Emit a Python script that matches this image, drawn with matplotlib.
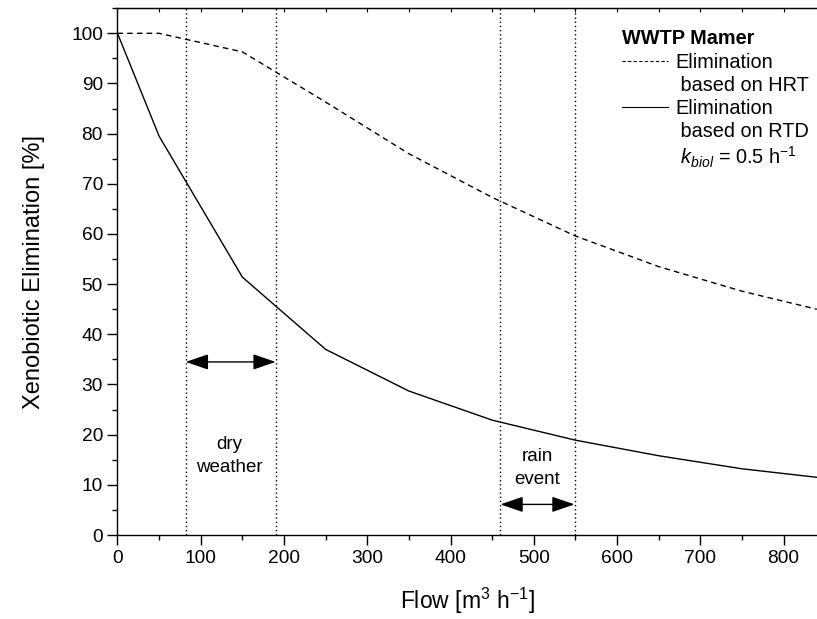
import matplotlib
matplotlib.use("Agg")
import matplotlib.pyplot as plt
from matplotlib.lines import Line2D
from matplotlib.ticker import MultipleLocator

plt.rcParams['font.family'] = ['Liberation Sans', 'DejaVu Sans']
plt.rcParams['mathtext.fontset'] = 'custom'
plt.rcParams['mathtext.rm'] = 'Liberation Sans'
plt.rcParams['mathtext.it'] = 'Liberation Sans:italic'

# flow [m3/h]
flow = [0, 50, 150, 250, 350, 450, 550, 650, 750, 840]
# elimination [%]
elim_hrt = [100, 100, 96.3, 86.3, 76.0, 67.3, 59.6, 53.5, 48.6, 45.0]
elim_rtd = [100, 79.5, 51.4, 37.0, 28.7, 22.9, 18.9, 15.8, 13.2, 11.5]

# flow regimes
dry_range = [82, 190]
rain_range = [460, 549]
dry_arrow_y = 34.5
rain_arrow_y = 6.1

fig = plt.figure(figsize=(8.17, 6.19), dpi=100)
ax = fig.add_axes([0.1438, 0.1357, 0.856, 0.851])

ax.plot(flow, elim_hrt, color='black', linestyle=(0, (4, 3)), linewidth=1.0)
ax.plot(flow, elim_rtd, color='black', linestyle='-', linewidth=1.0)

for xv in dry_range + rain_range:
    ax.axvline(xv, color='black', linestyle=(0, (1, 2)), linewidth=1.0)

arrow_kw = dict(arrowstyle='<|-|>,head_length=1.4,head_width=0.48', color='black',
                linewidth=1.0, shrinkA=0, shrinkB=0)
ax.annotate('', xy=(dry_range[0], dry_arrow_y), xytext=(dry_range[1], dry_arrow_y),
            arrowprops=arrow_kw)
ax.annotate('', xy=(rain_range[0], rain_arrow_y), xytext=(rain_range[1], rain_arrow_y),
            arrowprops=arrow_kw)

ax.text(sum(dry_range) / 2 - 2, 15.8, 'dry\nweather', ha='center', va='center',
        fontsize=13.5, linespacing=1.45)
ax.text(sum(rain_range) / 2, 13.3, 'rain\nevent', ha='center', va='center',
        fontsize=13.5, linespacing=1.45)

ax.set_xlim(0, 840)
ax.set_ylim(0, 105)
ax.xaxis.set_major_locator(MultipleLocator(100))
ax.xaxis.set_minor_locator(MultipleLocator(50))
ax.yaxis.set_major_locator(MultipleLocator(10))
ax.yaxis.set_minor_locator(MultipleLocator(5))
ax.set_yticks(range(0, 101, 10))
ax.tick_params(which='major', direction='out', length=7, width=1, labelsize=13.8)
ax.tick_params(which='minor', direction='out', length=3.6, width=1)
ax.spines['right'].set_visible(False)
for s in ['left', 'bottom', 'top']:
    ax.spines[s].set_linewidth(1.0)

top = ax.secondary_xaxis('top')
top.xaxis.set_major_locator(MultipleLocator(50))
top.tick_params(direction='in', length=3, labeltop=False)

ax.set_xlabel('Flow [m$^3$ h$^{-1}$]', fontsize=16.5, labelpad=14)
ax.set_ylabel('Xenobiotic Elimination [%]', fontsize=17, labelpad=19)

blank = Line2D([], [], linestyle='none')
handles = [Line2D([], [], color='black', linestyle=(0, (3, 2)), linewidth=0.8),
           blank,
           Line2D([], [], color='black', linestyle='-', linewidth=0.8),
           blank, blank]
labels = ['Elimination', ' based on HRT', 'Elimination', ' based on RTD',
          ' $k_{biol}$ = 0.5 h$^{-1}$']
leg = ax.legend(handles, labels, loc='upper right', bbox_to_anchor=(1.012, 0.99),
                frameon=False, fontsize=14.3, title='WWTP Mamer', handlelength=2.3,
                handletextpad=0.4, labelspacing=0.21, alignment='left',
                borderpad=0.3)
leg.get_title().set_fontweight('bold')
leg.get_title().set_fontsize(14.3)

fig.savefig('out.png', dpi=100)
